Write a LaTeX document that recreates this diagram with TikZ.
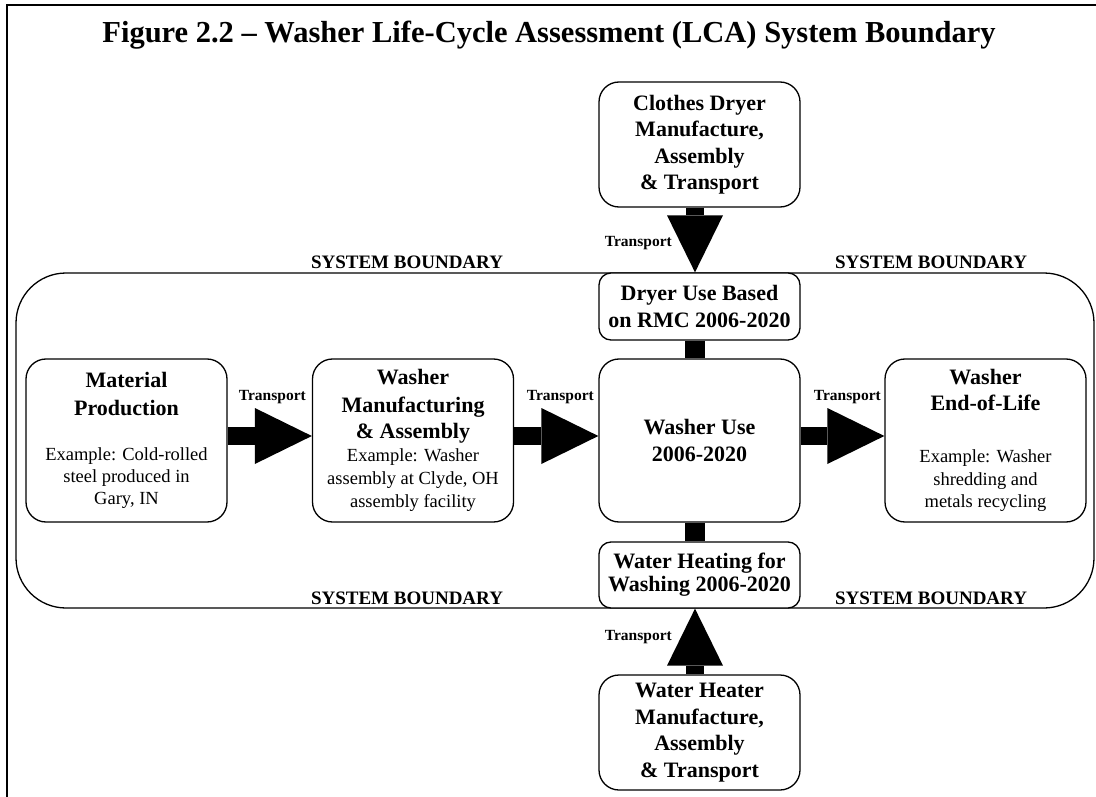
\documentclass[tikz,border=0pt]{standalone}
\usepackage{fontspec}
\setmainfont{Liberation Serif}
\usetikzlibrary{calc,arrows.meta}
\newcommand\exline[1]{{\mdseries\fontsize{18.5}{22}\selectfont #1}}
\begin{document}
\begin{tikzpicture}[x=1pt,y=-1pt,
  box/.style={draw, line width=1.3pt, rounded corners=20pt, fill=white, align=center,
    inner sep=0pt, minimum width=201pt, font=\bfseries\fontsize{22}{26.5}\selectfont},
  smallbox/.style={box, rounded corners=12pt},
  tlabel/.style={font=\bfseries\fontsize{15.5}{18}\selectfont, inner sep=0pt, anchor=base east},
  sblabel/.style={font=\bfseries\fontsize{19}{22}\selectfont, inner sep=0pt, anchor=base},
  fatarrow/.style={line width=18.5pt, -{Triangle[length=57pt,width=56pt,line width=0pt]}},
  bar/.style={line width=19.5pt}
]
\useasboundingbox (0,0) rectangle (1096,797);
% outer frame
\draw[line width=1.8pt] (7,797) -- (7,5) -- (1096,5);
% title
\node[font=\bfseries\fontsize{30.5}{36}\selectfont, anchor=base, inner sep=0pt] (title) at (549,43)
  {Figure 2.2 \textendash\ Washer Life-Cycle Assessment (LCA) System Boundary};
% system boundary
\node[draw, line width=1.3pt, rounded corners=50pt, minimum width=1078pt, minimum height=335pt, inner sep=0pt]
  (boundary) at (555,440.5) {};
% boxes
\node[box, minimum height=163pt] (mp) at (126.5,440.5)
  {Material\\[1.5pt]Production\\[18.5pt]\exline{Example: Cold-rolled}\\[-4.5pt]\exline{steel produced in}\\[-4.5pt]\exline{Gary, IN}};
\node[box, minimum height=163pt] (wm) at (413,440.5)
  {Washer\\[2pt]Manufacturing\\[-0.5pt]\&~Assembly\\[-4pt]\exline{Example: Washer}\\[-3.5pt]\exline{assembly at Clyde, OH}\\[-3pt]\exline{assembly facility}};
\node[box, minimum height=163pt] (wu) at (699.5,440.5)
  {Washer Use\\2006-2020};
\node[box, minimum height=163pt] (eol) at (985.5,440.5)
  {Washer\\End-of-Life\\[25.5pt]\exline{Example: Washer}\\[-3.5pt]\exline{shredding and}\\[-4.5pt]\exline{metals recycling}};
\node[smallbox, minimum height=67pt] (du) at (699.5,306.5)
  {Dryer Use Based\\on RMC 2006-2020};
\node[smallbox, minimum height=66pt] (wh) at (699.5,575)
  {Water Heating for\\[-3.5pt]Washing 2006-2020};
\node[box, minimum height=125pt] (cd) at (699.5,144.5)
  {Clothes Dryer\\Manufacture,\\Assembly\\\&~Transport};
\node[box, minimum height=115pt] (wr) at (699.5,732.5)
  {Water Heater\\Manufacture,\\Assembly\\\&~Transport};
% arrows
\draw[fatarrow] ($(mp.east)+(0,-4.5)$) -- ($(wm.west)+(0,-4.5)$);
\draw[fatarrow] ($(wm.east)+(0,-4.5)$) -- ($(wu.west)+(0,-4.5)$);
\draw[fatarrow] ($(wu.east)+(0,-4.5)$) -- ($(eol.west)+(0,-4.5)$);
\draw[fatarrow] ($(cd.south)+(-4.5,0)$) -- ($(du.north)+(-4.5,0)$);
\draw[fatarrow] ($(wr.north)+(-4.5,0)$) -- ($(wh.south)+(-4.5,0)$);
\draw[bar] ($(du.south)+(-4.5,0)$) -- ($(wu.north)+(-4.5,0)$);
\draw[bar] ($(wu.south)+(-4.5,0)$) -- ($(wh.north)+(-4.5,0)$);
% labels
\node[tlabel] (t1) at (306,400) {Transport};
\node[tlabel] (t2) at (594,400) {Transport};
\node[tlabel] (t3) at (881,400) {Transport};
\node[tlabel] (t4) at (672,247) {Transport};
\node[tlabel] (t5) at (672,640) {Transport};
\node[sblabel] (sb1) at (407,269) {SYSTEM BOUNDARY};
\node[sblabel] (sb2) at (931,269) {SYSTEM BOUNDARY};
\node[sblabel] (sb3) at (407,604) {SYSTEM BOUNDARY};
\node[sblabel] (sb4) at (931,604) {SYSTEM BOUNDARY};
\end{tikzpicture}
\end{document}
